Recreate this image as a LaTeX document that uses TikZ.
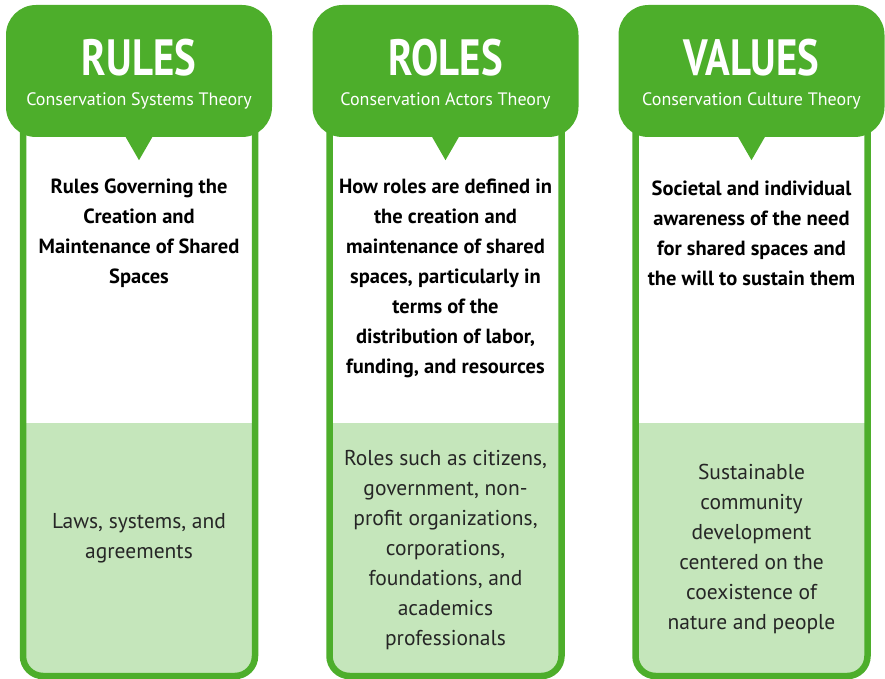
\documentclass[tikz,border=0pt]{standalone}
\usepackage{fontspec}
\setmainfont{PT Sans}
\definecolor{grn}{RGB}{77,174,43}
\definecolor{lgrn}{RGB}{197,230,187}
\tikzset{
  header/.style={fill=grn, rounded corners=30pt, minimum width=266pt, minimum height=132pt, inner sep=0pt},
  titletxt/.style={text=white, font=\bfseries\fontsize{51}{51}\selectfont, inner sep=0pt},
  subtxt/.style={text=white, font=\fontsize{18}{18}\selectfont, inner sep=0pt},
  bodybold/.style={text=black, font=\bfseries\fontsize{20.5}{30}\selectfont, align=center, inner sep=0pt},
  bodyreg/.style={text=black!85, font=\fontsize{21.5}{30}\selectfont, align=center, inner sep=0pt},
  frame/.style={draw=grn, line width=6.5pt, rounded corners=20pt},
}
\newcommand{\column}[2]{%
  \fill[lgrn] (#1-116,423) [rounded corners=20pt] -- (#1-116,676) -- (#1+116,676) [sharp corners] -- (#1+116,423) -- cycle;
  \draw[frame] (#1-116,120) -- (#1-116,676) -- (#1+116,676) -- (#1+116,120);
  \node[header] (h#2) at (#1,71) {};
  \fill[grn] ([xshift=-15pt,yshift=3pt]h#2.south) -- ([xshift=15pt,yshift=3pt]h#2.south) -- ([yshift=-23pt]h#2.south) -- cycle;
}
\newcommand{\cond}[1]{\scalebox{0.8}[1]{#1}}
\begin{document}
\begin{tikzpicture}[x=1pt,y=-1pt]
\useasboundingbox (0,0) rectangle (885,679);
\column{139}{1}
\column{445.5}{2}
\column{751.5}{3}
\node[titletxt] (t1) at (139,58) {\cond{RULES}};
\node[subtxt] (s1) at (139,101) {Conservation Systems Theory};
\node[titletxt] (t2) at (445.5,58) {\cond{ROLES}};
\node[subtxt] (s2) at (445.5,101) {Conservation Actors Theory};
\node[titletxt] (t3) at (751.5,58) {\cond{VALUES}};
\node[subtxt] (s3) at (751.5,101) {Conservation Culture Theory};
\node[bodybold] (b1) at (139,233) {Rules Governing the\\Creation and\\Maintenance of Shared\\Spaces};
\node[bodybold] (b2) at (445.5,278) {How roles are defined in\\the creation and\\maintenance of shared\\spaces, particularly in\\terms of the\\distribution of labor,\\funding, and resources};
\node[bodybold] (b3) at (751.5,233) {Societal and individual\\awareness of the need\\for shared spaces and\\the will to sustain them};
\node[bodyreg] (l1) at (139,538) {Laws, systems, and\\agreements};
\node[bodyreg] (l2) at (445.5,550) {Roles such as citizens,\\government, non-\\profit organizations,\\corporations,\\foundations, and\\academics\\professionals};
\node[bodyreg] (l3) at (751.5,549) {Sustainable\\community\\development\\centered on the\\coexistence of\\nature and people};
\end{tikzpicture}
\end{document}
